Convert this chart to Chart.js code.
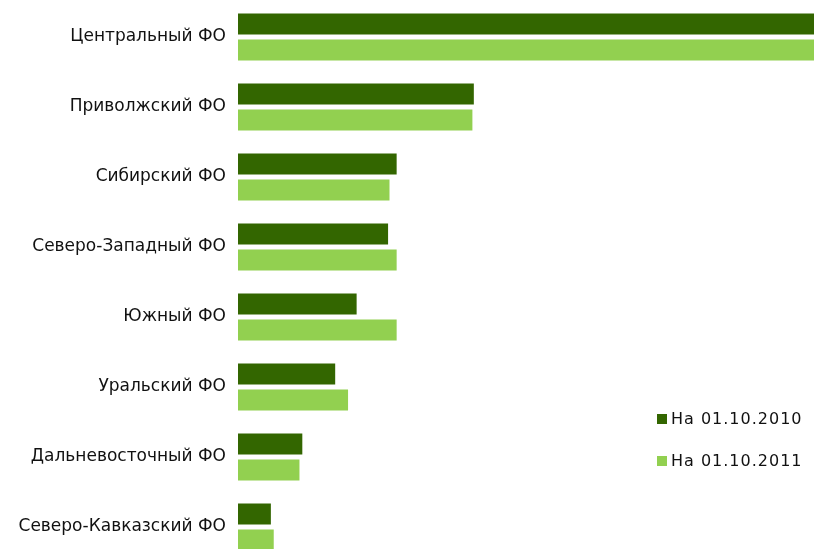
<!DOCTYPE html>
<html>
<head>
<meta charset="utf-8">
<script src="https://cdn.jsdelivr.net/npm/chart.js@4/dist/chart.umd.min.js"></script>
<style>
    html, body { margin: 0; padding: 0; background: #fff; overflow: hidden; }
    #wrap { width: 814px; height: 562px; position: relative; }
</style>
</head>
<body>
<div id="wrap"><canvas id="graf1"></canvas></div>
<script>
// округа
var okruga = ['Центральный ФО', 'Приволжский ФО', 'Сибирский ФО', 'Северо-Западный ФО',
    'Южный ФО', 'Уральский ФО', 'Дальневосточный ФО', 'Северо-Кавказский ФО'];
// значения (оценка по картинке)
var na2010 = [480, 165, 111, 105, 83, 68, 45, 23];
var na2011 = [470, 164, 106, 111, 111, 77, 43, 25];
var legenda = ['На 01.10.2010', 'На 01.10.2011'];

// legenda dentro da area do grafico
var legendaDentro = {
    id: 'legendaDentro',
    afterDraw: function (chart) {
        var ctx = chart.ctx;
        ctx.save();
        ctx.font = '16px "DejaVu Sans", sans-serif';
        ctx.letterSpacing = '1px';
        ctx.textBaseline = 'middle';
        chart.data.datasets.forEach(function (ds, i) {
            var y = 419 + i * 42;
            ctx.fillStyle = ds.backgroundColor;
            ctx.fillRect(657, y - 5, 10, 10);
            ctx.fillStyle = '#111';
            ctx.fillText(ds.label, 671, y + 1);
        });
        ctx.restore();
    }
};

var graf1 = new Chart(document.getElementById('graf1'), {
    type: 'bar',
    data: {
        labels: okruga,
        datasets: [{
                label: legenda[0],
                data: na2010,
                backgroundColor: '#336600',
                borderWidth: 0,
                categoryPercentage: 0.743,
                barPercentage: 0.81
            }, {
                label: legenda[1],
                data: na2011,
                backgroundColor: '#92D050',
                borderWidth: 0,
                categoryPercentage: 0.743,
                barPercentage: 0.81
            }]
    },
    options: {
        indexAxis: 'y',
        responsive: true,
        maintainAspectRatio: false,
        animation: false,
        layout: { padding: { top: 2, right: 0, bottom: 0, left: 0 } },
        plugins: {
            legend: { display: false },
            tooltip: { enabled: false }
        },
        scales: {
            x: {
                display: false,
                min: 0,
                max: 403
            },
            y: {
                grid: { display: false, drawTicks: false, tickLength: 0 },
                border: { display: false },
                ticks: {
                    color: '#111',
                    padding: 12,
                    font: { family: '"DejaVu Sans", sans-serif', size: 17 }
                },
                afterFit: function (scale) {
                    scale.width = 238;
                    scale.paddingTop = 0;
                    scale.paddingBottom = 0;
                }
            }
        }
    },
    plugins: [legendaDentro]
});
</script>
</body>
</html>
